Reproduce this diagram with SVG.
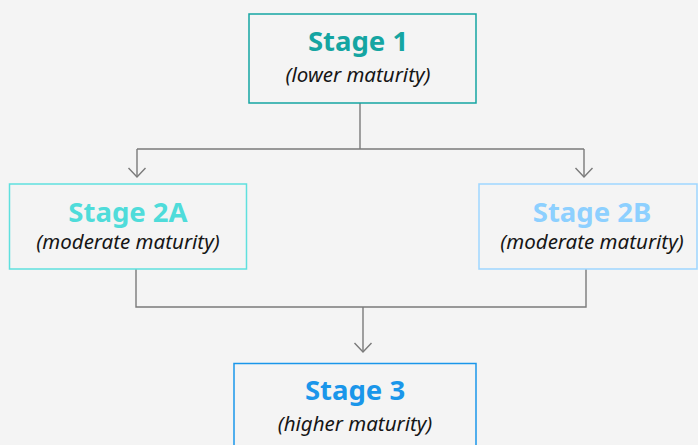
<svg xmlns="http://www.w3.org/2000/svg" width="698" height="445" viewBox="0 0 698 445">
<style>
.bg{fill:#f4f4f4}
.box{fill:#f4f4f4;stroke-width:1.5}
.t{font-family:"Noto Sans","Open Sans",sans-serif;font-weight:bold;font-size:27.5px;text-anchor:middle}
.s{font-family:"Noto Sans","Open Sans",sans-serif;font-style:italic;font-size:20.5px;fill:#161616;text-anchor:middle}
.c{fill:none;stroke:#7a7a7a;stroke-width:1.4}
</style>
<defs>
<marker id="arr" viewBox="0 0 12 20" refX="10.5" refY="10" markerWidth="12" markerHeight="20" markerUnits="userSpaceOnUse" orient="auto">
<path d="M1.5 1.5 L10.5 10 L1.5 18.5" fill="none" stroke="#7a7a7a" stroke-width="1.4"/>
</marker>
</defs>
<rect class="bg" x="0" y="0" width="698" height="445"/>
<g id="connectors">
<path class="c" d="M360 103 V149"/>
<path class="c" d="M137 149 H584"/>
<path class="c" d="M137 149 V177" marker-end="url(#arr)"/>
<path class="c" d="M584 149 V177" marker-end="url(#arr)"/>
<path class="c" d="M136 269 V307 H586 V269"/>
<path class="c" d="M363 307 V352" marker-end="url(#arr)"/>
</g>
<g id="stage1">
<rect class="box" x="249" y="14" width="227" height="89" stroke="#15a5a2"/>
<text class="t" x="358" y="51" fill="#15a5a2">Stage 1</text>
<text class="s" x="358" y="82">(lower maturity)</text>
</g>
<g id="stage2a">
<rect class="box" x="9.5" y="184" width="237" height="85" stroke="#5fe0de"/>
<text class="t" x="128" y="222" fill="#4fdcda">Stage 2A</text>
<text class="s" x="128" y="249">(moderate maturity)</text>
</g>
<g id="stage2b">
<rect class="box" x="479" y="184" width="218" height="85" stroke="#9ed6ff"/>
<text class="t" x="592" y="222" fill="#8dd0ff">Stage 2B</text>
<text class="s" x="592" y="249">(moderate maturity)</text>
</g>
<g id="stage3">
<rect class="box" x="234" y="363.5" width="242" height="90" stroke="#1a96ea"/>
<text class="t" x="355" y="400" fill="#1a96ea">Stage 3</text>
<text class="s" x="355" y="431">(higher maturity)</text>
</g>
</svg>
